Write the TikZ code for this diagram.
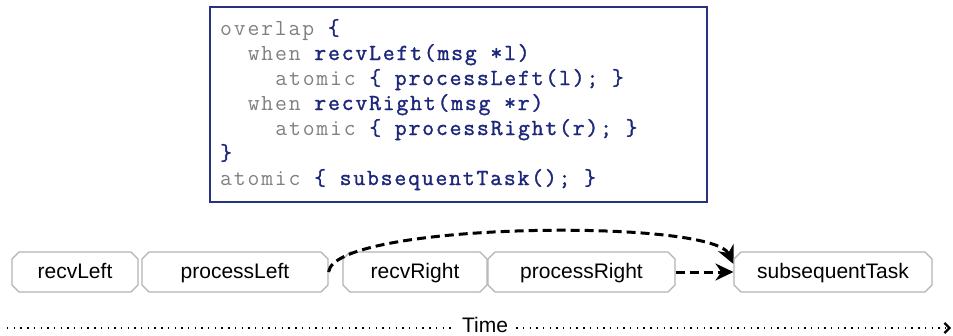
\documentclass[tikz,border=0pt]{standalone}
\usepackage{fontspec}
\setmainfont{Liberation Sans}
\newfontfamily\codefont{Latin Modern Mono}[LetterSpace=8, AutoFakeBold=1.4]
\usetikzlibrary{shapes.misc, arrows.meta}
\definecolor{codeblue}{RGB}{28,38,122}
\definecolor{codegray}{RGB}{128,128,128}
\definecolor{framecol}{RGB}{40,50,130}
\definecolor{boxgray}{RGB}{178,178,178}
\newcommand{\kw}[1]{\textcolor{codegray}{#1}}
\newcommand{\nm}[1]{\textcolor{codeblue}{\bfseries #1}}
\begin{document}
\begin{tikzpicture}[x=1pt, y=-1pt,
  codeline/.style={anchor=base west, inner sep=0pt, font=\codefont\fontsize{23}{25}\selectfont},
  codeframe/.style={draw=framecol, line width=1.2pt, minimum width=497pt, minimum height=195pt, inner sep=0pt},
  task/.style={chamfered rectangle, chamfered rectangle xsep=3.5pt, chamfered rectangle ysep=3.5pt, draw=boxgray, line width=1.1pt,
    minimum height=40pt, inner sep=0pt, font=\fontsize{21}{24}\selectfont, text height=14pt, text depth=1pt},
  conn/.style={line width=3pt, dash pattern=on 9pt off 5pt, -{Stealth[length=18pt,width=17pt]}},
  timeline/.style={line width=1.4pt, dash pattern=on 1.4pt off 5.3pt}
]
\useasboundingbox (0,0) rectangle (953,335);

% code block
\node[codeframe] (codebox) at (458.5,104.5) {};
\node[codeline] (l1) at (220,35)  {\kw{overlap }\nm{\{}};
\node[codeline] (l2) at (247.6,60)  {\kw{when }\nm{recvLeft(msg *l)}};
\node[codeline] (l3) at (275.2,85)  {\kw{atomic }\nm{\{ processLeft(l); \}}};
\node[codeline] (l4) at (247.6,110) {\kw{when }\nm{recvRight(msg *r)}};
\node[codeline] (l5) at (275.2,135) {\kw{atomic }\nm{\{ processRight(r); \}}};
\node[codeline] (l6) at (220,160) {\nm{\}}};
\node[codeline] (l7) at (220,185) {\kw{atomic }\nm{\{ subsequentTask(); \}}};

% tasks
\node[task, minimum width=126pt] (rL) at (75,272) {recvLeft};
\node[task, minimum width=186pt] (pL) at (235,272) {processLeft};
\node[task, minimum width=144pt] (rR) at (415,272) {recvRight};
\node[task, minimum width=187pt] (pR) at (581.5,272) {processRight};
\node[task, minimum width=198pt] (sT) at (833,272) {subsequentTask};

% connectors
\draw[conn] (pR.east) -- (sT.west);
\draw[conn] (pL.east) .. controls (334,222) and (712,218) .. ([yshift=8pt]sT.west);

% time axis
\coordinate (ts) at (7,328);
\coordinate (te) at (951,328);
\node[inner xsep=8pt, inner ysep=0pt, anchor=base, font=\fontsize{21}{24}\selectfont] (time) at (485,332) {Time};
\draw[timeline] (ts) -- (time.west |- ts);
\draw[timeline, -{Straight Barb[length=5pt,width=10pt,line width=2.2pt]}] (time.east |- ts) -- (te);
\end{tikzpicture}
\end{document}
